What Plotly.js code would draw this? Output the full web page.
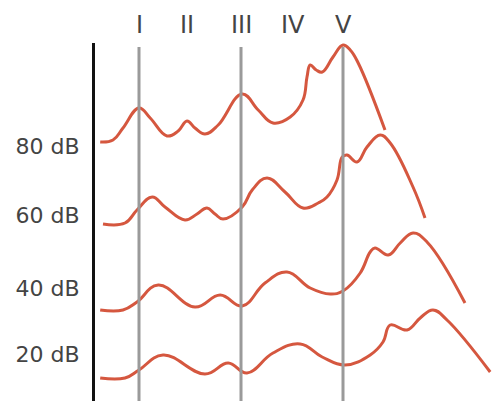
<!DOCTYPE html>
<html>
<head>
<meta charset="utf-8">
<script src="https://cdn.plot.ly/plotly-3.0.1.min.js"></script>
<style>html,body{margin:0;padding:0;background:#fff;}#chart{width:503px;height:401px;}</style>
</head>
<body>
<div id="chart"></div>
<script>
// Latency (ms) and stacked amplitude (µV, each trace offset by level)
const levels = ["80 dB", "60 dB", "40 dB", "20 dB"];
const levelLabelY = [2.55, 1.86, 1.13, 0.47];

const x80 = [0.13,0.45,0.70,1.10,1.38,1.80,2.08,2.30,2.50,2.75,3.08,3.68,4.08,4.45,4.88,5.20,5.30,5.38,5.53,5.68,5.95,6.20,6.38,6.58,7.25];
const y80 = [2.59,2.61,2.73,2.93,2.83,2.65,2.70,2.80,2.73,2.67,2.76,3.07,2.91,2.78,2.84,3.01,3.24,3.36,3.31,3.29,3.44,3.56,3.51,3.38,2.71];

const x60 = [0.20,0.75,1.05,1.43,1.75,2.25,2.55,2.80,3.00,3.20,3.68,3.93,4.30,4.75,5.20,5.58,5.80,6.05,6.18,6.30,6.55,6.80,7.13,7.38,7.95,8.25];
const y60 = [1.77,1.78,1.91,2.04,1.94,1.81,1.87,1.93,1.87,1.82,1.94,2.11,2.23,2.09,1.93,1.98,2.04,2.21,2.44,2.46,2.39,2.54,2.66,2.58,2.14,1.83];

const x40 = [0.13,0.70,1.05,1.58,2.50,3.13,3.68,4.25,4.80,5.38,5.88,6.20,6.63,6.88,7.00,7.33,7.63,7.95,8.30,9.25];
const y40 = [0.91,0.91,0.99,1.16,0.94,1.06,0.95,1.18,1.29,1.13,1.07,1.10,1.28,1.49,1.53,1.46,1.58,1.68,1.59,0.98];

const x20 = [0.13,0.75,1.10,1.70,2.75,3.33,3.80,4.45,5.13,5.68,6.25,6.88,7.20,7.38,7.80,8.13,8.45,8.80,9.88];
const y20 = [0.23,0.23,0.31,0.46,0.27,0.38,0.28,0.48,0.57,0.44,0.36,0.46,0.59,0.76,0.71,0.83,0.91,0.81,0.29];

const waveNames = ["I", "II", "III", "IV", "V"];
const waveLatency = [1.10, 2.30, 3.65, 4.95, 6.20];
const markedWaves = ["I", "III", "V"];

const red = "#d5573f";
const series = [[x80,y80],[x60,y60],[x40,y40],[x20,y20]];
const traces = series.map((s, i) => ({
  x: s[0], y: s[1], type: "scatter", mode: "lines", name: levels[i],
  line: {color: red, width: 3, shape: "spline", smoothing: 1.2},
  hoverinfo: "skip"
}));

const shapes = markedWaves.map(w => ({
  type: "line", xref: "x", yref: "paper",
  x0: waveLatency[waveNames.indexOf(w)], x1: waveLatency[waveNames.indexOf(w)],
  y0: 0, y1: 0.989, layer: "above",
  line: {color: "#9a9a9a", width: 3}
}));

const annotations = waveNames.map((w, i) => ({
  text: w, x: waveLatency[i], xref: "x", y: 1.05, yref: "paper",
  xanchor: "center", yanchor: "middle", showarrow: false,
  font: {family: "DejaVu Sans", size: 24, color: "#444"}
}));

const layout = {
  width: 503, height: 401,
  margin: {l: 95, r: 0, t: 43, b: 0, pad: 0},
  paper_bgcolor: "#fff", plot_bgcolor: "#fff",
  showlegend: false,
  xaxis: {range: [0, 10.2], showgrid: false, zeroline: false, showticklabels: false, showline: false, ticks: ""},
  yaxis: {range: [0, 3.58], showgrid: false, zeroline: false, showline: true, linecolor: "#111", linewidth: 3,
          ticks: "", tickvals: levelLabelY, ticktext: levels, ticklabelstandoff: 8,
          tickfont: {family: "DejaVu Sans", size: 22, color: "#444"}},
  shapes: shapes,
  annotations: annotations
};

Plotly.newPlot("chart", traces, layout, {displayModeBar: false, staticPlot: true});
</script>
</body>
</html>
